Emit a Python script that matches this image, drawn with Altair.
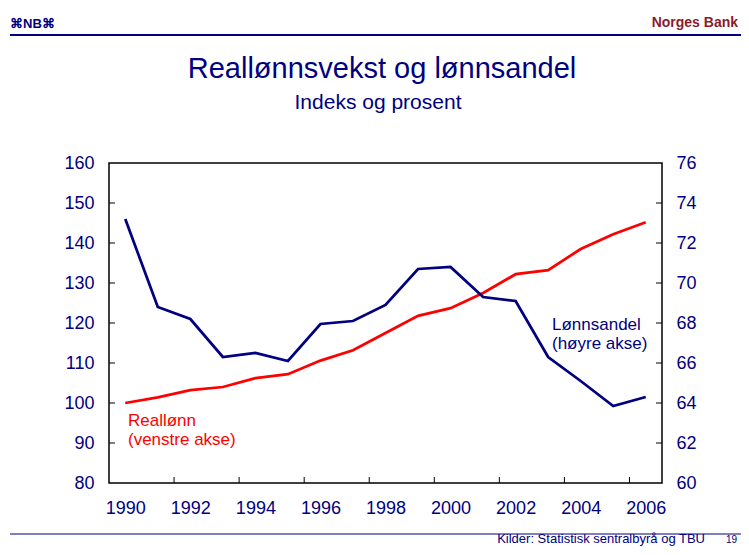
import altair as alt
import pandas as pd

# ---- data ----
years = list(range(1990, 2007))
reallonn = [100.0, 101.4, 103.2, 104.0, 106.2, 107.2, 110.6, 113.2, 117.5,
            121.8, 123.7, 127.5, 132.2, 133.2, 138.5, 142.2, 145.2]
lonnsandel = [73.2, 68.8, 68.2, 66.3, 66.5, 66.1, 67.95, 68.1, 68.9,
              70.7, 70.8, 69.3, 69.1, 66.3, 65.1, 63.85, 64.3]

x_labels = [1990, 1992, 1994, 1996, 1998, 2000, 2002, 2004, 2006]
x_ticks = [1991.5, 1993.5, 1995.5, 1997.5, 1999.5, 2001.5, 2003.5, 2005.5]
left_values = [80, 90, 100, 110, 120, 130, 140, 150, 160]
left_ticks = [90, 100, 110, 120, 130, 140, 150]
right_values = [60, 62, 64, 66, 68, 70, 72, 74, 76]
right_ticks = [62, 64, 66, 68, 70, 72, 74]

title_text = "Reallønnsvekst og lønnsandel"
subtitle_text = "Indeks og prosent"
red_label = ["Reallønn", "(venstre akse)"]
blue_label = ["Lønnsandel", "(høyre akse)"]
source_text = "Kilder: Statistisk sentralbyrå og TBU"
page_no = "19"

NAVY = "#000080"
RED = "#ff0000"
DARKRED = "#8b1a2e"
FONT = "Liberation Sans"
W, H = 553, 320

df = pd.DataFrame({"year": years, "reallonn": reallonn, "lonnsandel": lonnsandel})
one = pd.DataFrame({"a": [0]})

xscale = alt.Scale(domain=[1989.5, 2006.5], nice=False, zero=False)
lscale = alt.Scale(domain=[80, 160], nice=False, zero=False)
rscale = alt.Scale(domain=[60, 76], nice=False, zero=False)

axis_common = dict(title=None, tickSize=0, grid=False, domain=False,
                   labelFontSize=18, labelColor=NAVY, labelFont=FONT)

xaxis = alt.Axis(values=x_labels, format="d", labelPadding=16,
                 labelFlush=False, orient="bottom", **axis_common)

red_line = alt.Chart(df).mark_line(color=RED, strokeWidth=2.75).encode(
    x=alt.X("year:Q", scale=xscale, axis=xaxis),
    y=alt.Y("reallonn:Q", scale=lscale,
            axis=alt.Axis(values=left_values, format="d", orient="left",
                          labelPadding=15, **axis_common)),
)

blue_line = alt.Chart(df).mark_line(color=NAVY, strokeWidth=2.75).encode(
    x=alt.X("year:Q", scale=xscale, axis=xaxis),
    y=alt.Y("lonnsandel:Q", scale=rscale,
            axis=alt.Axis(values=right_values, format="d", orient="right",
                          labelPadding=14, **axis_common)),
)

left_tick_marks = alt.Chart(pd.DataFrame({"v": left_ticks})).mark_rule(
    color="black", strokeWidth=1).encode(
    y=alt.Y("v:Q", scale=lscale, axis=None),
    x=alt.value(0), x2=alt.value(6))

right_tick_marks = alt.Chart(pd.DataFrame({"v": right_ticks})).mark_rule(
    color="black", strokeWidth=1).encode(
    y=alt.Y("v:Q", scale=rscale, axis=None),
    x=alt.value(W), x2=alt.value(W - 6))

x_tick_marks = alt.Chart(pd.DataFrame({"year": x_ticks})).mark_rule(
    color="black", strokeWidth=1).encode(
    x=alt.X("year:Q", scale=xscale, axis=xaxis),
    y=alt.value(H), y2=alt.value(H - 6))

red_text = alt.Chart(one).mark_text(
    text=red_label, align="left", baseline="alphabetic", fontSize=17,
    font=FONT, color=RED, lineHeight=19).encode(
    x=alt.value(19), y=alt.value(263))

blue_text = alt.Chart(one).mark_text(
    text=blue_label, align="left", baseline="alphabetic", fontSize=17,
    font=FONT, color=NAVY, lineHeight=19).encode(
    x=alt.value(443), y=alt.value(167))

# header / footer decorations
logo = alt.Chart(one).mark_text(
    text="⌘NB⌘", align="left", baseline="alphabetic", fontSize=13,
    fontWeight="bold", font=FONT, color=NAVY).encode(
    x=alt.value(-99), y=alt.value(-135))
bank = alt.Chart(one).mark_text(
    text="Norges Bank", align="right", baseline="alphabetic", fontSize=14,
    fontWeight="bold", font=FONT, color=DARKRED).encode(
    x=alt.value(629), y=alt.value(-136))
header_rule = alt.Chart(one).mark_rule(color=NAVY, strokeWidth=2).encode(
    x=alt.value(-99), x2=alt.value(640), y=alt.value(-128))
title = alt.Chart(one).mark_text(
    text=title_text, align="center", baseline="alphabetic", fontSize=29,
    font=FONT, color=NAVY).encode(
    x=alt.value(273), y=alt.value(-85))
subtitle = alt.Chart(one).mark_text(
    text=subtitle_text, align="center", baseline="alphabetic", fontSize=21,
    font=FONT, color=NAVY).encode(
    x=alt.value(269), y=alt.value(-54))
footer_rule = alt.Chart(one).mark_rule(color=NAVY, strokeWidth=1).encode(
    x=alt.value(-99), x2=alt.value(640), y=alt.value(371))
source = alt.Chart(one).mark_text(
    text=source_text, align="right", baseline="alphabetic", fontSize=13,
    font=FONT, color=NAVY).encode(
    x=alt.value(596), y=alt.value(380))
page = alt.Chart(one).mark_text(
    text=page_no, align="right", baseline="alphabetic", fontSize=10,
    font=FONT, color=NAVY).encode(
    x=alt.value(628), y=alt.value(380))

chart = alt.layer(
    red_line, blue_line, left_tick_marks, right_tick_marks, x_tick_marks,
    red_text, blue_text, logo, bank, header_rule, title, subtitle,
    footer_rule, source, page
).resolve_scale(
    y="independent"
).properties(
    width=W, height=H, autosize="none",
    padding={"left": 101, "top": 155, "right": 79, "bottom": 64},
    background="white",
).configure_view(stroke="black", strokeWidth=1.5)

chart.save("out.html", embed_options={"renderer": "svg", "actions": False})
